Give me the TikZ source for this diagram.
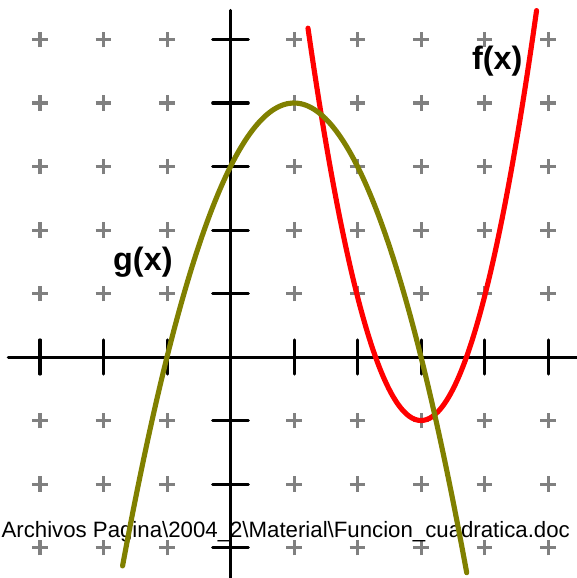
\documentclass[tikz,border=0pt]{standalone}
\usepackage{fontspec}
\setmainfont{Liberation Sans}
\definecolor{olivec}{RGB}{128,128,0}
\definecolor{gridgray}{RGB}{128,128,128}
\begin{document}
\begin{tikzpicture}[
  plusmark/.style={gridgray, line width=1.35pt},
  axisline/.style={black, line width=1.35pt, line cap=round},
  tickline/.style={black, line width=1.35pt, line cap=round},
  curvef/.style={red, line width=2.3pt, line cap=round, line join=round},
  curveg/.style={olivec, line width=2.3pt, line cap=round, line join=round},
  funlabel/.style={font=\bfseries\fontsize{14.5}{16}\selectfont, inner sep=0pt}
]
\useasboundingbox (-3.630,-3.480) rectangle (5.441,5.622);
% grid plus marks
\foreach \i in {-3,...,5}{
  \foreach \j in {-3,...,5}{
    \pgfmathtruncatemacro{\onaxis}{(\i==0)||(\j==0)}
    \ifnum\onaxis=0
      \draw[plusmark] (\i-0.125,\j) -- (\i+0.125,\j);
      \draw[plusmark] (\i,\j-0.125) -- (\i,\j+0.125);
    \fi
  }
}
% file path text
\node[inner sep=0pt, anchor=base] (path) at (0.87,-2.85)
  {\resizebox{8.95cm}{!}{Archivos Pagina\textbackslash 2004\_2\textbackslash Material\textbackslash Funcion\_cuadratica.doc}};
% axes
\coordinate (xl) at (-3.50,0);
\coordinate (xr) at (5.45,0);
\coordinate (yb) at (0,-3.50);
\coordinate (yt) at (0,5.46);
\draw[axisline] (xl) -- (xr);
\draw[axisline] (yb) -- (yt);
\foreach \i in {-3,-2,-1,1,2,3,4,5}{
  \draw[tickline] (\i,-0.27) -- (\i,0.27);
  \draw[tickline] (-0.28,\i) -- (0.28,\i);
}
% curves
\draw[curvef] plot[domain=1.22:4.82, samples=80, smooth] (\x,{1.95*(\x-3)^2-1});
\draw[curveg] plot[domain=-1.70:3.72, samples=80, smooth] (\x,{-(\x-1)^2+4});
% labels
\node[funlabel] (flab) at (4.2,4.66) {f(x)};
\node[funlabel] (glab) at (-1.38,1.50) {g(x)};
\end{tikzpicture}
\end{document}
